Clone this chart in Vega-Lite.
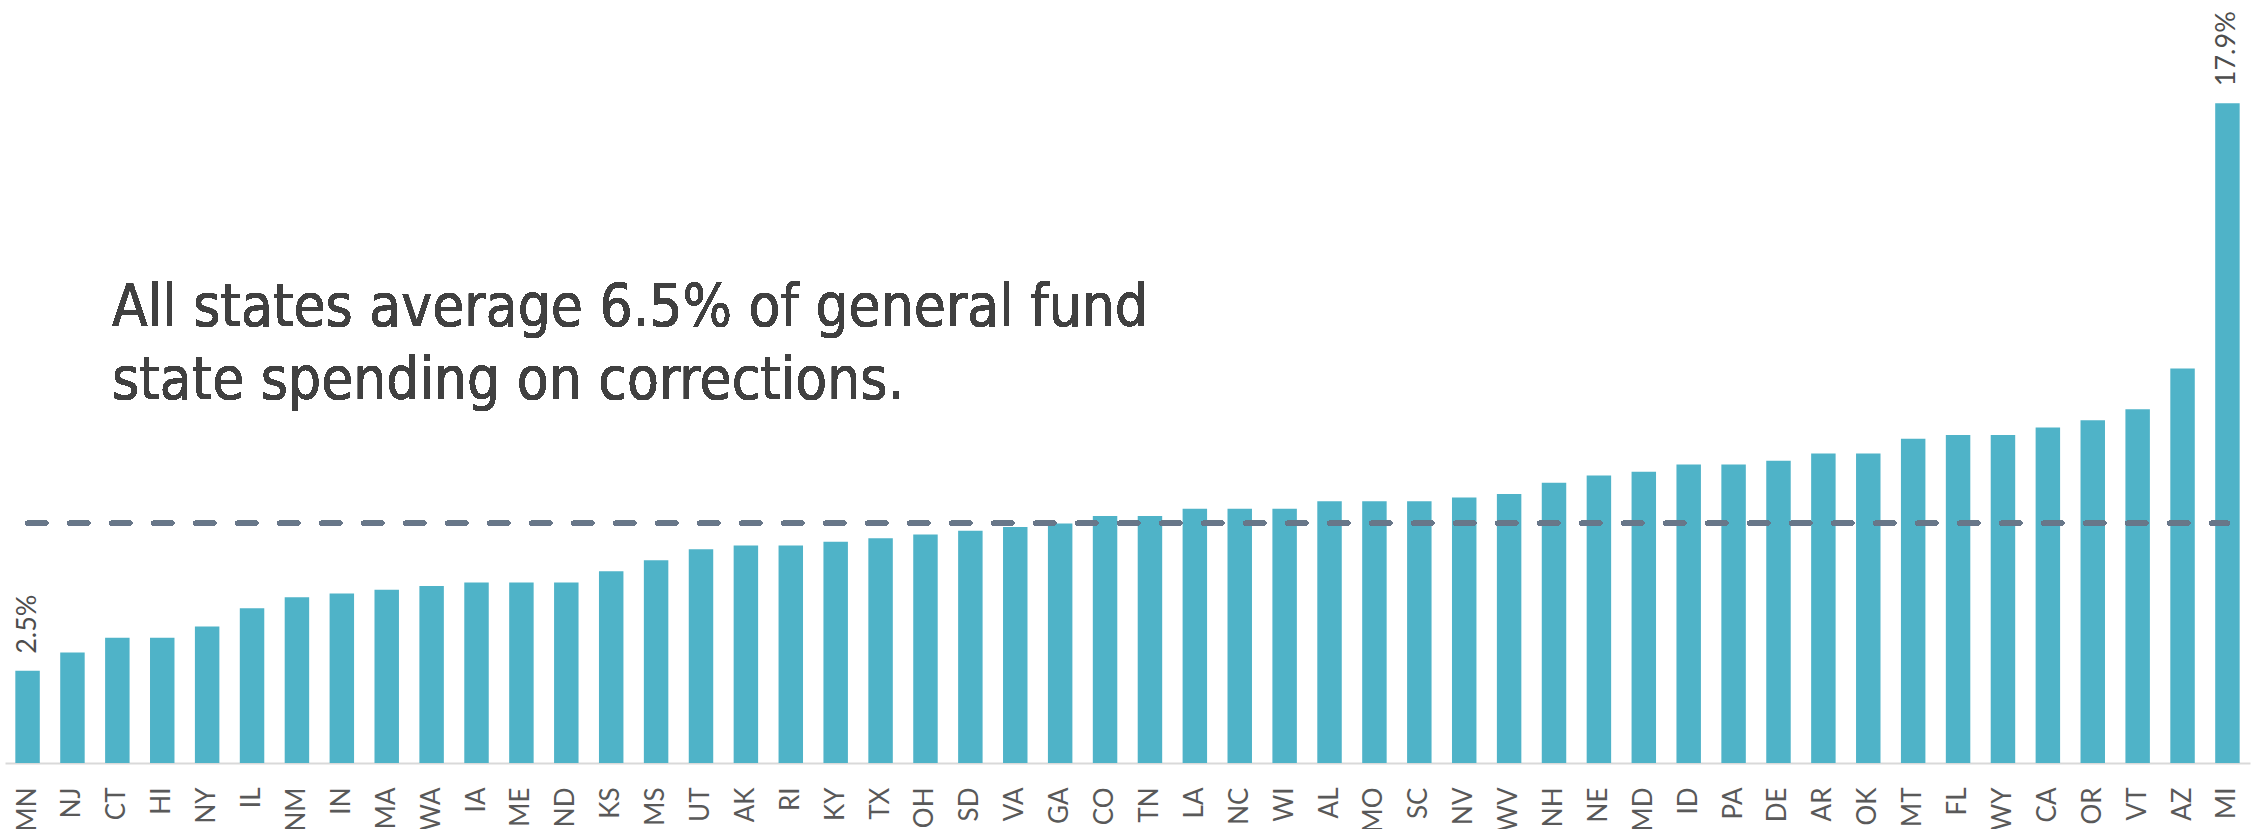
{
  "$schema": "https://vega.github.io/schema/vega-lite/v6.json",
  "width": 2245,
  "height": 763,
  "autosize": {"type": "none"},
  "padding": {"left": 5, "top": 0, "right": 10, "bottom": 66},
  "background": "#ffffff",
  "config": {"view": {"stroke": null}},
  "data": {"values": [
    {"state": "MN", "pct": 2.5}, {"state": "NJ", "pct": 3.0}, {"state": "CT", "pct": 3.4}, {"state": "HI", "pct": 3.4},
    {"state": "NY", "pct": 3.7}, {"state": "IL", "pct": 4.2}, {"state": "NM", "pct": 4.5}, {"state": "IN", "pct": 4.6},
    {"state": "MA", "pct": 4.7}, {"state": "WA", "pct": 4.8}, {"state": "IA", "pct": 4.9}, {"state": "ME", "pct": 4.9},
    {"state": "ND", "pct": 4.9}, {"state": "KS", "pct": 5.2}, {"state": "MS", "pct": 5.5}, {"state": "UT", "pct": 5.8},
    {"state": "AK", "pct": 5.9}, {"state": "RI", "pct": 5.9}, {"state": "KY", "pct": 6.0}, {"state": "TX", "pct": 6.1},
    {"state": "OH", "pct": 6.2}, {"state": "SD", "pct": 6.3}, {"state": "VA", "pct": 6.4}, {"state": "GA", "pct": 6.5},
    {"state": "CO", "pct": 6.7}, {"state": "TN", "pct": 6.7}, {"state": "LA", "pct": 6.9}, {"state": "NC", "pct": 6.9},
    {"state": "WI", "pct": 6.9}, {"state": "AL", "pct": 7.1}, {"state": "MO", "pct": 7.1}, {"state": "SC", "pct": 7.1},
    {"state": "NV", "pct": 7.2}, {"state": "WV", "pct": 7.3}, {"state": "NH", "pct": 7.6}, {"state": "NE", "pct": 7.8},
    {"state": "MD", "pct": 7.9}, {"state": "ID", "pct": 8.1}, {"state": "PA", "pct": 8.1}, {"state": "DE", "pct": 8.2},
    {"state": "AR", "pct": 8.4}, {"state": "OK", "pct": 8.4}, {"state": "MT", "pct": 8.8}, {"state": "FL", "pct": 8.9},
    {"state": "WY", "pct": 8.9}, {"state": "CA", "pct": 9.1}, {"state": "OR", "pct": 9.3}, {"state": "VT", "pct": 9.6},
    {"state": "AZ", "pct": 10.7}, {"state": "MI", "pct": 17.9}
  ]},
  "layer": [
    {
      "mark": {"type": "bar", "color": "#4fb3c8"},
      "encoding": {
        "x": {
          "field": "state", "type": "nominal", "sort": null,
          "scale": {"paddingInner": 0.455, "paddingOuter": 0.23},
          "axis": {
            "title": null, "ticks": false, "labelAngle": 270, "labelAlign": "right", "labelBaseline": "middle",
            "labelPadding": 24, "labelFont": "Lato", "labelFontWeight": "normal", "labelFontSize": 26, "labelColor": "#595959",
            "domainColor": "#d9d9d9", "domainWidth": 2, "grid": false
          }
        },
        "y": {"field": "pct", "type": "quantitative", "scale": {"domain": [0, 20.7], "nice": false}, "axis": null}
      }
    },
    {
      "transform": [
        {"filter": "datum.state === 'MN' || datum.state === 'MI'"},
        {"calculate": "format(datum.pct, '.1f') + '%'", "as": "label"}
      ],
      "mark": {"type": "text", "angle": 270, "align": "left", "baseline": "middle", "dx": 17, "font": "Lato", "fontWeight": "normal", "fontSize": 27, "color": "#4d4d4d"},
      "encoding": {
        "x": {"field": "state", "type": "nominal", "sort": null},
        "y": {"field": "pct", "type": "quantitative"},
        "text": {"field": "label"}
      }
    },
    {
      "mark": {"type": "rule", "color": "#687789", "strokeWidth": 4.8, "strokeDash": [18.5, 23.5], "strokeCap": "round"},
      "encoding": {
        "x": {"datum": "MN"},
        "x2": {"datum": "MI"},
        "y": {"datum": 6.51, "type": "quantitative"}
      }
    },
    {
      "mark": {"type": "text", "align": "left", "baseline": "alphabetic", "font": "Liberation Sans Narrow, DejaVu Sans Condensed, Roboto, sans-serif", "fontSize": 58, "color": "#404040", "lineHeight": 73, "dx": 7},
      "encoding": {
        "x": {"datum": "CT", "bandPosition": 0},
        "y": {"datum": 11.85, "type": "quantitative"},
        "text": {"value": ["All states average 6.5% of general fund", "state spending on corrections."]}
      }
    }
  ]
}
